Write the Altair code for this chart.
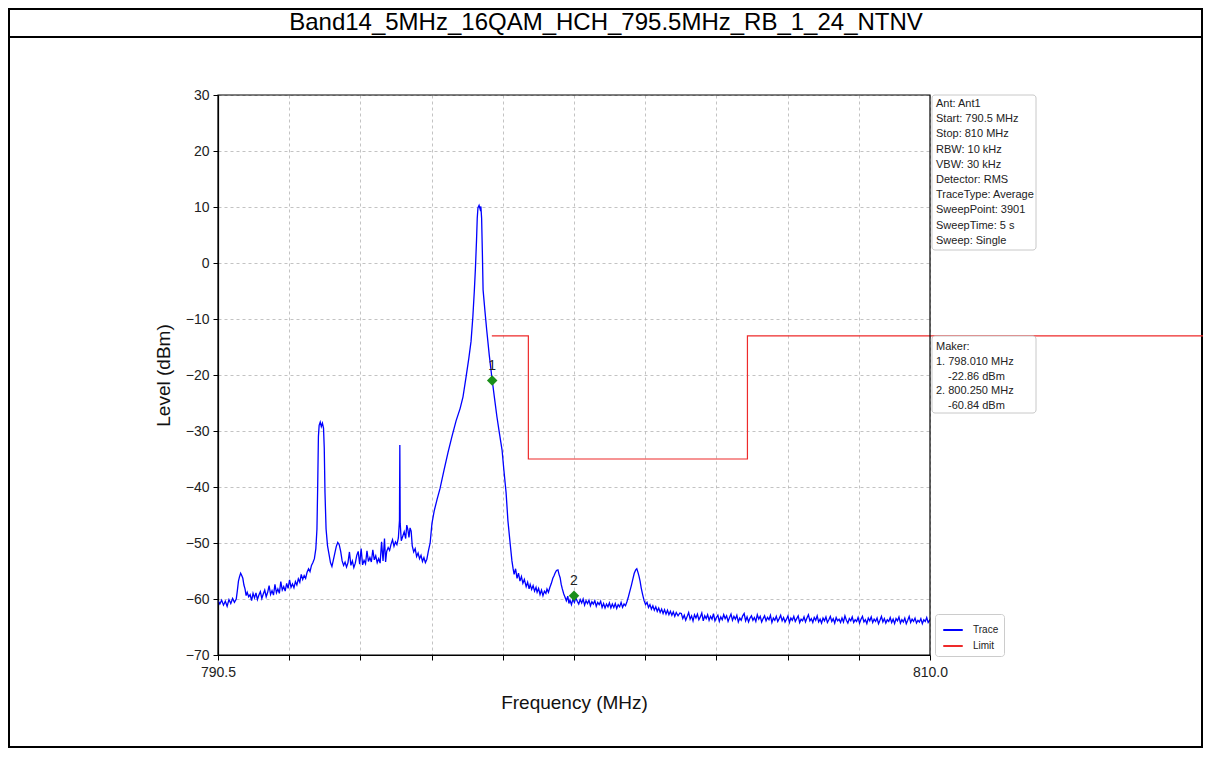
import altair as alt
import pandas as pd

TITLE = "Band14_5MHz_16QAM_HCH_795.5MHz_RB_1_24_NTNV"

# Trace (frequency in MHz, level in dBm)
FREQ_MHZ = [
    790.50, 790.55, 790.60, 790.65, 790.70, 790.75, 790.80, 790.85, 790.90, 790.95,
    791.00, 791.03, 791.06, 791.09, 791.12, 791.15, 791.18, 791.21, 791.24, 791.27,
    791.30, 791.34, 791.38, 791.42, 791.46, 791.50, 791.54, 791.58, 791.62, 791.66,
    791.70, 791.74, 791.78, 791.82, 791.86, 791.90, 791.94, 791.98, 792.02, 792.06,
    792.10, 792.14, 792.18, 792.22, 792.26, 792.30, 792.34, 792.38, 792.42, 792.46,
    792.50, 792.54, 792.58, 792.62, 792.66, 792.70, 792.74, 792.78, 792.82, 792.86,
    792.90, 792.94, 792.98, 793.02, 793.06, 793.10, 793.14, 793.18, 793.21, 793.23,
    793.25, 793.27, 793.30, 793.33, 793.36, 793.39, 793.41, 793.43, 793.46, 793.50,
    793.54, 793.58, 793.62, 793.66, 793.70, 793.74, 793.78, 793.82, 793.86, 793.90,
    793.94, 793.98, 794.02, 794.06, 794.10, 794.14, 794.18, 794.22, 794.26, 794.30,
    794.34, 794.38, 794.42, 794.46, 794.50, 794.54, 794.58, 794.62, 794.66, 794.70,
    794.74, 794.78, 794.82, 794.86, 794.90, 794.94, 794.98, 795.02, 795.06, 795.09,
    795.12, 795.16, 795.20, 795.24, 795.28, 795.32, 795.36, 795.40, 795.44, 795.47,
    795.48, 795.49, 795.52, 795.56, 795.60, 795.64, 795.67, 795.70, 795.73, 795.76,
    795.79, 795.82, 795.86, 795.90, 795.94, 795.98, 796.02, 796.06, 796.10, 796.14,
    796.18, 796.22, 796.26, 796.31, 796.36, 796.42, 796.50, 796.58, 796.69, 796.80,
    796.91, 797.02, 797.13, 797.21, 797.29, 797.37, 797.43, 797.48, 797.52, 797.55,
    797.58, 797.60, 797.62, 797.65, 797.68, 797.70, 797.72, 797.74, 797.76, 797.81,
    797.86, 797.93, 798.00, 798.07, 798.14, 798.21, 798.28, 798.33, 798.39, 798.44,
    798.50, 798.55, 798.58, 798.61, 798.65, 798.69, 798.73, 798.77, 798.81, 798.85,
    798.89, 798.94, 798.98, 799.02, 799.05, 799.09, 799.13, 799.17, 799.21, 799.24,
    799.28, 799.32, 799.36, 799.40, 799.44, 799.48, 799.51, 799.55, 799.59, 799.63,
    799.67, 799.70, 799.73, 799.77, 799.81, 799.84, 799.87, 799.90, 799.93, 799.97,
    800.00, 800.04, 800.08, 800.11, 800.14, 800.18, 800.22, 800.26, 800.30, 800.34,
    800.38, 800.42, 800.46, 800.50, 800.54, 800.58, 800.62, 800.66, 800.70, 800.74,
    800.78, 800.82, 800.86, 800.90, 800.94, 800.98, 801.02, 801.06, 801.10, 801.14,
    801.18, 801.22, 801.26, 801.30, 801.34, 801.38, 801.42, 801.46, 801.50, 801.54,
    801.58, 801.62, 801.66, 801.70, 801.74, 801.78, 801.82, 801.86, 801.90, 801.94,
    801.97, 802.00, 802.03, 802.06, 802.09, 802.13, 802.17, 802.21, 802.25, 802.29,
    802.33, 802.37, 802.41, 802.45, 802.49, 802.53, 802.57, 802.61, 802.65, 802.69,
    802.73, 802.77, 802.81, 802.85, 802.89, 802.93, 802.97, 803.01, 803.05, 803.10,
    803.15,
    803.19, 803.23, 803.27, 803.31, 803.35, 803.39, 803.43, 803.47, 803.51, 803.55,
    803.59, 803.63, 803.67, 803.71, 803.75, 803.79, 803.83, 803.87, 803.91, 803.95,
    803.99, 804.03, 804.07, 804.11, 804.15, 804.19, 804.23, 804.27, 804.31, 804.35,
    804.39, 804.43, 804.47, 804.51, 804.55, 804.59, 804.63, 804.67, 804.71, 804.75,
    804.79, 804.83, 804.87, 804.91, 804.95, 804.99, 805.03, 805.07, 805.11, 805.15,
    805.19, 805.23, 805.27, 805.31, 805.35, 805.39, 805.43, 805.47, 805.51, 805.55,
    805.59, 805.63, 805.67, 805.71, 805.75, 805.79, 805.83, 805.87, 805.91, 805.95,
    805.99, 806.03, 806.07, 806.11, 806.15, 806.19, 806.23, 806.27, 806.31, 806.35,
    806.39, 806.43, 806.47, 806.51, 806.55, 806.59, 806.63, 806.67, 806.71, 806.75,
    806.79, 806.83, 806.87, 806.91, 806.95, 806.99, 807.03, 807.07, 807.11, 807.15,
    807.19, 807.23, 807.27, 807.31, 807.35, 807.39, 807.43, 807.47, 807.51, 807.55,
    807.59, 807.63, 807.67, 807.71, 807.75, 807.79, 807.83, 807.87, 807.91, 807.95,
    807.99, 808.03, 808.07, 808.11, 808.15, 808.19, 808.23, 808.27, 808.31, 808.35,
    808.39, 808.43, 808.47, 808.51, 808.55, 808.59, 808.63, 808.67, 808.71, 808.75,
    808.79, 808.83, 808.87, 808.91, 808.95, 808.99, 809.03, 809.07, 809.11, 809.15,
    809.19, 809.23, 809.27, 809.31, 809.35, 809.39, 809.43, 809.47, 809.51, 809.55,
    809.59, 809.63, 809.67, 809.71, 809.75, 809.79, 809.83, 809.87, 809.91, 809.95,
    809.99, 810.00,
]
LEVEL_DBM = [
    -60.3, -60.9, -60.2, -61.1, -60.4, -61.3, -60.1, -60.8, -59.9, -60.6,
    -60.0, -58.5, -56.8, -56.0, -55.4, -55.8, -56.3, -57.5, -58.2, -59.4,
    -58.8, -59.6, -59.2, -60.3, -59.0, -59.8, -58.9, -60.1, -59.3, -58.7,
    -59.9, -59.1, -58.4, -59.6, -58.8, -57.6, -59.2, -58.5, -59.3, -57.4,
    -58.9, -58.2, -59.0, -56.9, -58.4, -57.8, -58.6, -57.2, -58.1, -56.6,
    -57.9, -57.3, -58.0, -56.9, -57.5, -56.4, -57.0, -55.6, -56.5, -55.8,
    -56.3, -55.2, -54.6, -55.1, -54.0, -53.5, -52.8, -51.0, -47.5, -40.0,
    -31.0, -29.0, -28.4, -29.2, -28.6, -29.5, -33.0, -41.0, -47.5, -50.5,
    -52.0, -53.5, -54.2, -53.0, -51.8, -50.6, -49.9, -50.3, -51.5, -53.2,
    -54.0, -53.4, -54.3, -53.5, -51.6, -54.0, -53.2, -54.4, -53.6, -52.2,
    -51.5, -53.8, -51.0, -53.9, -53.1, -53.7, -51.4, -53.3, -52.6, -53.4,
    -51.2, -53.0, -52.3, -53.5, -52.8, -53.6, -49.8, -53.2, -49.2, -53.4,
    -51.5, -50.8, -51.3, -50.2, -49.4, -50.6, -49.8, -50.3, -49.1, -46.0,
    -32.5, -46.5, -49.6, -48.8, -48.0, -49.2, -46.8, -47.6, -49.0, -47.3,
    -47.9, -50.5, -51.6, -51.0, -52.4, -51.8, -52.8, -52.2, -53.3, -52.6,
    -53.5, -52.9, -51.5, -50.0, -46.5, -44.3, -42.2, -40.3, -37.0, -33.8,
    -30.9, -28.2, -26.0, -23.9, -20.5, -17.0, -14.0, -9.6, -5.0, -1.0,
    4.0, 8.0, 9.9, 10.3, 9.6, 10.1, 8.0, 2.0, -4.8, -8.5,
    -12.0, -16.5, -20.4, -24.0, -27.5, -30.5, -33.4, -37.0, -41.0, -46.0,
    -50.0, -53.2, -54.5, -55.6, -54.6, -56.3, -55.4, -56.8, -56.0, -57.2,
    -56.5, -57.8, -57.0, -58.2, -57.4, -58.3, -57.6, -58.6, -57.9, -58.8,
    -58.1, -59.2, -58.4, -59.4, -58.6, -59.0, -58.2, -58.8, -57.9, -57.2,
    -56.3, -55.9, -55.4, -54.9, -54.8, -55.6, -56.2, -57.4, -58.2, -59.1,
    -59.6, -60.3, -59.5, -60.8, -60.2, -61.0, -60.0, -60.6, -59.8, -60.4,
    -60.9, -60.1, -60.7, -60.0, -61.1, -60.3, -60.8, -60.2, -61.2, -60.5,
    -60.9, -60.3, -61.3, -60.6, -61.0, -60.4, -61.5, -60.8, -61.6, -60.9,
    -61.4, -60.7, -61.6, -60.9, -61.5, -60.8, -61.7, -61.0, -61.4, -60.6,
    -61.5, -60.9, -61.2, -60.5, -59.6, -58.6, -57.6, -56.5, -55.4, -54.8,
    -54.6, -55.2, -55.9, -56.8, -58.0, -59.2, -60.3, -61.0, -60.6, -61.5,
    -61.0, -61.8, -61.2, -62.0, -61.4, -62.2, -61.6, -62.4, -61.8, -62.6,
    -61.9, -62.7, -62.0, -62.8, -62.2, -62.9, -62.3, -63.1, -62.4, -63.0,
    -62.5,
    -62.6, -63.5, -62.9, -63.8, -63.1, -62.4, -63.6, -63.0, -63.9, -62.8,
    -63.4, -62.7, -63.7, -63.2, -62.5, -63.9, -63.0, -63.5, -62.8, -63.8,
    -63.1, -63.6, -62.6, -63.9, -63.3, -62.9, -64.0, -63.2, -63.7, -62.8,
    -63.5, -63.0, -64.0, -63.3, -62.7, -63.8, -63.1, -63.6, -62.9, -64.1,
    -63.4, -63.8, -63.0, -62.6, -63.9, -63.2, -64.1, -63.4, -63.0, -63.8,
    -63.3, -64.0, -62.8, -63.6, -63.1, -64.1, -63.5, -63.0, -63.9, -63.3,
    -63.7, -62.9, -64.2, -63.4, -63.8, -63.1, -64.0, -63.5, -62.9, -63.9,
    -63.3, -64.1, -63.6, -63.0, -64.2, -63.4, -63.8, -63.1, -64.0, -63.5,
    -63.0, -64.2, -63.6, -63.9, -63.2, -64.1, -63.4, -62.8, -63.9, -63.5,
    -64.2, -63.3, -63.8, -63.0, -64.1, -63.6, -64.3, -63.4, -63.9, -63.2,
    -64.2, -63.7, -63.1, -64.0, -63.5, -64.3, -63.3, -63.9, -63.6, -64.2,
    -63.4, -64.1, -63.0, -63.8, -64.3, -63.5, -63.9, -63.2, -64.2, -63.7,
    -64.0, -63.3, -64.3, -63.6, -63.1, -64.1, -63.7, -64.4, -63.4, -63.9,
    -63.2, -64.2, -63.6, -64.0, -63.4, -64.4, -63.8, -63.1, -64.1, -63.5,
    -64.3, -63.7, -64.0, -63.3, -64.2, -63.6, -64.4, -63.5, -63.9, -63.2,
    -64.3, -63.7, -64.1, -63.4, -64.4, -63.8, -63.1, -64.2, -63.6, -64.0,
    -63.4, -64.3, -63.8, -64.1, -63.5, -64.4, -63.7, -64.0, -63.3, -64.2,
    -63.8, -63.9,
]

LIMIT_FREQ_MHZ = [798.0, 799.0, 799.0, 805.0, 805.0, 818.0]
LIMIT_DBM = [-13, -13, -35, -35, -13, -13]

MARKER_FREQ_MHZ = [798.01, 800.25]
MARKER_DBM = [-21.0, -59.4]
MARKER_LABELS = ["1", "2"]

X_TICKS = [790.5, 792.45, 794.4, 796.35, 798.3, 800.25, 802.2, 804.15, 806.1, 808.05, 810.0]
Y_TICKS = [30, 20, 10, 0, -10, -20, -30, -40, -50, -60, -70]

INFO_LINES = ["Ant: Ant1", "Start: 790.5 MHz", "Stop: 810 MHz", "RBW: 10 kHz", "VBW: 30 kHz",
              "Detector: RMS", "TraceType: Average", "SweepPoint: 3901", "SweepTime: 5 s",
              "Sweep: Single"]
MARKER_LINES = ["Maker:", "1. 798.010 MHz", "-22.86 dBm", "2. 800.250 MHz", "-60.84 dBm"]
MARKER_INDENT = [0, 0, 1, 0, 1]

FONT = "Liberation Sans"
W, H = 712, 560

trace_df = pd.DataFrame({"freq": FREQ_MHZ, "level": LEVEL_DBM, "series": "Trace"})
trace_df["idx"] = range(len(trace_df))
limit_df = pd.DataFrame({"freq": LIMIT_FREQ_MHZ, "level": LIMIT_DBM, "series": "Limit"})
limit_df["idx"] = range(len(limit_df))
marker_df = pd.DataFrame({"freq": MARKER_FREQ_MHZ, "level": MARKER_DBM, "label": MARKER_LABELS})
info_df = pd.DataFrame({"line": INFO_LINES, "i": range(len(INFO_LINES))})
mk_df = pd.DataFrame({"line": MARKER_LINES, "i": range(len(MARKER_LINES)), "ind": MARKER_INDENT})
one = pd.DataFrame({"a": [0]})

x_enc = alt.X(
    "freq:Q",
    scale=alt.Scale(domain=[790.5, 810.0], nice=False, zero=False),
    axis=alt.Axis(
        values=X_TICKS,
        labelExpr="(datum.value == 790.5 || datum.value == 810) ? format(datum.value, '.1f') : ''",
        labelFlush=False,
        labelPadding=5,
        title="Frequency (MHz)",
        titlePadding=14,
    ),
)
y_enc = alt.Y(
    "level:Q",
    scale=alt.Scale(domain=[-70, 30], nice=False, zero=False),
    axis=alt.Axis(values=Y_TICKS, title="Level (dBm)", titlePadding=12, labelFlush=False),
)
color_enc = alt.Color(
    "series:N",
    scale=alt.Scale(domain=["Trace", "Limit"], range=["#0000ff", "#ee2a2a"]),
    legend=alt.Legend(
        title=None, orient="none", legendX=717, legendY=519,
        symbolType="stroke", symbolSize=380, symbolStrokeWidth=2,
        labelFontSize=10, labelFont=FONT, labelColor="#222", labelOffset=9,
        padding=5, rowPadding=-1, strokeColor="#cccccc", fillColor="white",
        cornerRadius=3, symbolOffset=2,
    ),
)

trace = alt.Chart(trace_df).mark_line(strokeWidth=1.3, clip=True).encode(
    x=x_enc, y=y_enc, color=color_enc, order="idx:Q"
)
limit = alt.Chart(limit_df).mark_line(strokeWidth=1.2, clip=False).encode(
    x="freq:Q", y="level:Q", color=color_enc, order="idx:Q"
)
markers = alt.Chart(marker_df).mark_point(
    shape="diamond", filled=True, size=110, color="#1a8f1a", opacity=1
).encode(x="freq:Q", y="level:Q")
marker_text = alt.Chart(marker_df).mark_text(
    dy=-15, fontSize=14, font=FONT, color="#222222"
).encode(x="freq:Q", y="level:Q", text="label:N")

# plot border (spines)
spines = alt.Chart(one).mark_rect(
    fillOpacity=0, stroke="black", strokeWidth=1.2
).encode(x=alt.value(0), x2=alt.value(W), y=alt.value(0), y2=alt.value(H))

# page decoration (frame and title bar)
frame = alt.Chart(one).mark_rect(
    fill="white", fillOpacity=0, stroke="black", strokeWidth=2
).encode(x=alt.value(-209), x2=alt.value(984), y=alt.value(-86), y2=alt.value(652))
title_rule = alt.Chart(one).mark_rule(color="black", strokeWidth=2).encode(
    x=alt.value(-210), x2=alt.value(985), y=alt.value(-58)
)
title_text = alt.Chart(one).mark_text(
    text=TITLE, fontSize=24, font=FONT, color="black", align="center", baseline="middle"
).encode(x=alt.value(388), y=alt.value(-72))

info_box = alt.Chart(one).mark_rect(
    fill="white", stroke="#c8c8c8", strokeWidth=1, cornerRadius=3
).encode(x=alt.value(714), x2=alt.value(818), y=alt.value(0), y2=alt.value(155))
info_text = alt.Chart(info_df).mark_text(
    fontSize=11, font=FONT, color="#222222", align="left", baseline="middle"
).transform_calculate(py="9 + datum.i * 15.2").encode(
    x=alt.value(718), y=alt.Y("py:Q", scale=None, axis=None), text="line:N"
)
mk_box = alt.Chart(one).mark_rect(
    fill="white", stroke="#c8c8c8", strokeWidth=1, cornerRadius=3
).encode(x=alt.value(714), x2=alt.value(818), y=alt.value(241), y2=alt.value(318))
mk_text = alt.Chart(mk_df).mark_text(
    fontSize=11, font=FONT, color="#222222", align="left", baseline="middle"
).transform_calculate(
    py="252 + datum.i * 14.75", px="718 + datum.ind * 12"
).encode(
    x=alt.X("px:Q", scale=None, axis=None),
    y=alt.Y("py:Q", scale=None, axis=None),
    text="line:N",
)

chart = alt.layer(
    frame, title_rule, title_text, trace, limit, markers, marker_text, spines,
    info_box, info_text, mk_box, mk_text,
).resolve_scale(
    color="shared"
).properties(
    width=W, height=H,
    autosize=alt.AutoSizeParams(type="none"),
    padding={"left": 210, "top": 87, "right": 273, "bottom": 93},
    background="white",
).configure_view(
    strokeWidth=0
).configure_axis(
    labelFont=FONT, labelFontSize=14, labelColor="#222222",
    titleFont=FONT, titleFontSize=19, titleFontWeight="normal", titleColor="#111111",
    domainColor="black", domainWidth=1.2, tickColor="black", tickSize=5, tickWidth=1,
    labelPadding=4, gridColor="#b4b4b4", gridDash=[3, 3], gridWidth=0.8,
)

chart.save("out.html", embed_options={"renderer": "svg", "actions": False})
